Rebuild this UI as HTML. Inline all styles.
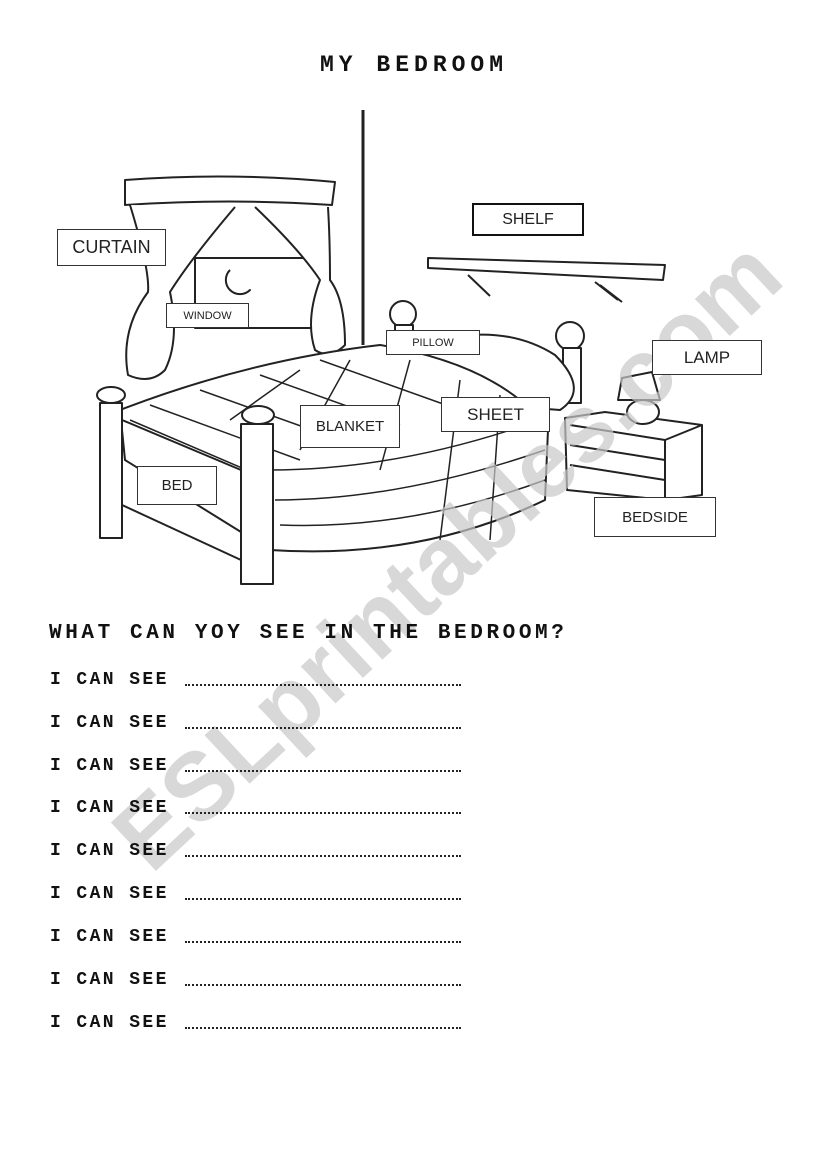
<!DOCTYPE html>
<html><head><meta charset="utf-8"><style>
body{margin:0;background:#fff;width:821px;height:1169px;position:relative;overflow:hidden;font-family:"Liberation Sans",sans-serif}
.t{position:absolute;font-family:"Liberation Mono",monospace;font-weight:bold;color:#111;white-space:nowrap}
.b{position:absolute;border:1px solid #333;background:#fff;display:flex;align-items:center;justify-content:center;color:#222;box-sizing:border-box}
.r{position:absolute;left:50px;font-family:"Liberation Mono",monospace;font-weight:bold;font-size:18px;letter-spacing:2.4px;color:#111;white-space:nowrap}
.d{position:absolute;left:185px;width:276px;border-bottom:2px dotted #222}
</style></head><body>
<svg width="821" height="1169" style="position:absolute;left:0;top:0" fill="none" stroke="#222" stroke-width="2" stroke-linejoin="round">
<line x1="363" y1="110" x2="363" y2="345" stroke-width="3"/>
<rect x="195" y="258" width="125" height="70" fill="#fff"/>
<path d="M125 180 Q230 172 335 182 L332 205 Q230 198 125 205 Z" fill="#fff"/>
<path d="M130 205 Q150 270 148 292 Q120 330 128 375 Q150 385 165 370 Q180 340 170 292 Q190 260 235 207" fill="#fff"/>
<path d="M255 207 Q300 250 320 280 Q305 320 315 350 Q330 360 345 345 Q345 300 330 280 Q330 240 328 207" fill="#fff"/>
<path d="M230 270 A13 13 0 1 0 250 290 A10 10 0 1 1 230 270" />
<path d="M428 258 L665 265 L663 280 L428 268 Z" fill="#fff"/>
<path d="M468 275 L490 296 M595 282 L618 300 M600 285 L622 302" />
<circle cx="403" cy="314" r="13" fill="#fff"/><rect x="395" y="325" width="18" height="30" fill="#fff"/>
<circle cx="570" cy="336" r="14" fill="#fff"/><rect x="563" y="348" width="18" height="55" fill="#fff"/>
<path d="M420 345 Q500 320 555 355 Q590 390 560 410 L430 400 Z" fill="#fff"/>
<path d="M120 410 Q250 360 380 345 Q470 360 520 400 L548 430 L545 500 Q420 560 270 550 L125 460 Z" fill="#fff"/>
<path d="M130 420 L270 480 M150 405 L300 460 M200 390 L340 440 M260 375 L400 425 M320 360 L460 410" stroke-width="1.5"/>
<path d="M270 470 Q400 470 540 420 M275 500 Q400 500 545 450 M280 525 Q410 530 545 480" stroke-width="1.5"/>
<path d="M300 370 L230 420 M350 360 L300 450 M410 360 L380 470 M460 380 L440 540 M500 395 L490 540" stroke-width="1.5"/>
<ellipse cx="111" cy="395" rx="14" ry="8" fill="#fff"/><rect x="100" y="403" width="22" height="135" fill="#fff"/>
<ellipse cx="258" cy="415" rx="16" ry="9" fill="#fff"/><rect x="241" y="424" width="32" height="160" fill="#fff"/>
<path d="M122 420 L241 470 M122 505 L241 560"/>
<path d="M565 418 L605 412 L702 425 L702 495 L666 500 L567 490 Z" fill="#fff"/>
<path d="M570 425 L665 440 L665 498 M570 445 L665 460 M570 465 L665 480 M665 440 L702 425"/>
<path d="M622 378 L652 372 L660 400 L618 400 Z" fill="#fff"/>
<ellipse cx="643" cy="412" rx="16" ry="12" fill="#fff"/>
<text x="450" y="610" transform="rotate(-43 420 570)" font-family="Liberation Sans" font-weight="bold" font-size="96" fill="#c8c8c8" fill-opacity="0.7" stroke="none" text-anchor="middle">ESLprintables.com</text>
</svg>
<div class="t" style="left:320px;top:52px;font-size:23px;letter-spacing:5px">MY BEDROOM</div>
<div class="b" style="left:57px;top:229px;width:109px;height:37px;font-size:18px">CURTAIN</div>
<div class="b" style="left:166px;top:303px;width:83px;height:25px;font-size:11px">WINDOW</div>
<div class="b" style="left:472px;top:203px;width:112px;height:33px;font-size:16px;border:2px solid #111">SHELF</div>
<div class="b" style="left:386px;top:330px;width:94px;height:25px;font-size:11px">PILLOW</div>
<div class="b" style="left:652px;top:340px;width:110px;height:35px;font-size:17px">LAMP</div>
<div class="b" style="left:300px;top:405px;width:100px;height:43px;font-size:15px">BLANKET</div>
<div class="b" style="left:441px;top:397px;width:109px;height:35px;font-size:17px">SHEET</div>
<div class="b" style="left:137px;top:466px;width:80px;height:39px;font-size:15px">BED</div>
<div class="b" style="left:594px;top:497px;width:122px;height:40px;font-size:15px">BEDSIDE</div>
<div class="t" style="left:49px;top:622px;font-size:21px;letter-spacing:3.6px">WHAT CAN YOY SEE IN THE BEDROOM?</div>
<div class="r" style="top:670px">I CAN SEE</div><div class="d" style="top:684px"></div>
<div class="r" style="top:713px">I CAN SEE</div><div class="d" style="top:727px"></div>
<div class="r" style="top:756px">I CAN SEE</div><div class="d" style="top:770px"></div>
<div class="r" style="top:798px">I CAN SEE</div><div class="d" style="top:812px"></div>
<div class="r" style="top:841px">I CAN SEE</div><div class="d" style="top:855px"></div>
<div class="r" style="top:884px">I CAN SEE</div><div class="d" style="top:898px"></div>
<div class="r" style="top:927px">I CAN SEE</div><div class="d" style="top:941px"></div>
<div class="r" style="top:970px">I CAN SEE</div><div class="d" style="top:984px"></div>
<div class="r" style="top:1013px">I CAN SEE</div><div class="d" style="top:1027px"></div>
</body></html>
